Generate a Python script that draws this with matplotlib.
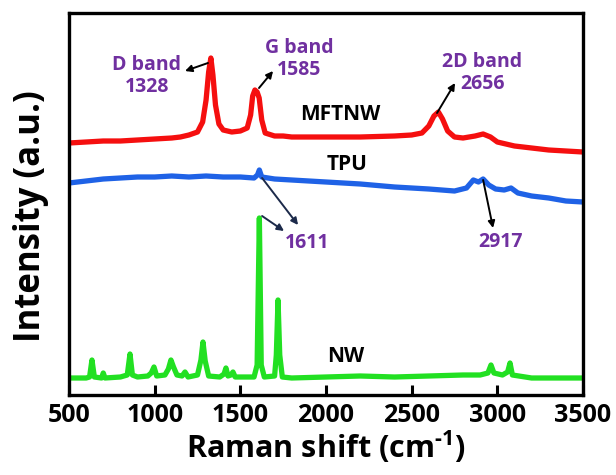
import matplotlib
matplotlib.use('Agg')
import matplotlib.pyplot as plt

plt.rcParams['font.family'] = ['Open Sans', 'DejaVu Sans']
plt.rcParams['font.weight'] = 'bold'
plt.rcParams['mathtext.fontset'] = 'custom'
plt.rcParams['mathtext.rm'] = 'Open Sans:bold'
plt.rcParams['mathtext.bf'] = 'Open Sans:bold'
plt.rcParams['mathtext.default'] = 'bf'

# Raman spectra (shift in cm^-1, intensity in a.u., traces already offset)
mftnw_shift = [500, 600, 700, 800, 900, 1000, 1100, 1150, 1200, 1250, 1280, 1300,
               1315, 1328, 1340, 1355, 1375, 1400, 1450, 1500, 1540, 1560, 1572,
               1585, 1598, 1610, 1625, 1645, 1700, 1750, 1800, 2000, 2200, 2400,
               2500, 2560, 2600, 2630, 2656, 2680, 2710, 2750, 2800, 2870, 2917,
               2960, 3000, 3100, 3200, 3300, 3400, 3500]
mftnw_int = [252, 253, 254, 254, 255, 256, 257, 258, 260, 263, 273, 295,
             323, 337, 320, 290, 271, 265, 263, 264, 267, 280, 299,
             305, 303, 297, 275, 262, 259, 259, 258, 258, 258, 259,
             260, 262, 269, 279, 283, 276, 264, 258, 257, 259, 261,
             258, 253, 249, 247, 245, 244, 243]

tpu_shift = [500, 600, 700, 800, 900, 1000, 1100, 1200, 1300, 1400, 1500, 1580,
             1600, 1611, 1625, 1700, 1800, 2000, 2200, 2400, 2600, 2750, 2820,
             2860, 2890, 2917, 2950, 2990, 3040, 3080, 3120, 3200, 3300, 3400, 3500]
tpu_int = [212, 214, 216, 217, 218, 218, 219, 218, 219, 218, 218, 217,
           220, 225, 218, 216, 215, 213, 211, 208, 206, 204, 207,
           215, 213, 216, 210, 206, 205, 207, 202, 199, 197, 194, 193]

nw_shift = [500, 600, 620, 634, 648, 690, 700, 710, 800, 840, 856, 870, 900,
            960, 980, 996, 1012, 1060, 1080, 1095, 1110, 1130, 1160, 1177, 1195,
            1250, 1270, 1282, 1295, 1315, 1380, 1405, 1416, 1428, 1445, 1457,
            1470, 1580, 1598, 1611, 1622, 1640, 1700, 1710, 1720, 1730, 1745,
            1800, 2000, 2200, 2400, 2600, 2800, 2900, 2945, 2963, 2980, 3030,
            3060, 3074, 3088, 3200, 3350, 3500]
nw_int = [17, 17, 18, 35, 18, 17, 22, 17, 18, 20, 41, 20, 18,
          19, 22, 28, 19, 20, 26, 35, 28, 20, 19, 23, 18,
          20, 35, 53, 34, 19, 18, 21, 27, 19, 20, 23,
          18, 18, 30, 177, 30, 18, 19, 40, 95, 40, 18,
          17, 18, 19, 18, 19, 20, 20, 22, 30, 22, 20,
          23, 32, 20, 17, 17, 17]

purple = '#7030a0'
navy = '#1c2a4a'

fig = plt.figure(figsize=(6.16, 4.75), dpi=100)
ax = fig.add_axes([69 / 616, 1 - 395 / 475, 514 / 616, 382 / 475])

ax.plot(mftnw_shift, mftnw_int, color='#f50f0f', lw=3.8, solid_joinstyle='round')
ax.plot(tpu_shift, tpu_int, color='#1f62e6', lw=3.8, solid_joinstyle='round')
ax.plot(nw_shift, nw_int, color='#22e022', lw=3.8, solid_joinstyle='round')

ax.set_xlim(500, 3500)
ax.set_ylim(0, 382)
ax.set_xticks([500, 1000, 1500, 2000, 2500, 3000, 3500])
ax.set_yticks([])
ax.tick_params(axis='x', direction='in', length=7, width=2.2, labelsize=18, pad=6)
for lbl in ax.get_xticklabels():
    lbl.set_fontweight('bold')
for sp in ax.spines.values():
    sp.set_linewidth(2.4)

ax.set_xlabel(r'Raman shift (cm$^{\text{-1}}$)', fontsize=22, fontweight='bold', labelpad=0)
fig.text(31 / 616, 1 - 216 / 475, 'Intensity (a.u.)', rotation=90, fontsize=25,
         fontweight='bold', ha='center', va='center')

# sample names
ax.text(2082, 280, 'MFTNW', fontsize=15, fontweight='bold', ha='center', va='center')
ax.text(2123, 230, 'TPU', fontsize=15, fontweight='bold', ha='center', va='center')
ax.text(2117, 38, 'NW', fontsize=15, fontweight='bold', ha='center', va='center')

# peak labels
ax.text(955, 319, 'D band\n1328', fontsize=14, fontweight='bold', color=purple,
        ha='center', va='center', linespacing=1.1)
ax.text(1843, 336, 'G band\n1585', fontsize=14, fontweight='bold', color=purple,
        ha='center', va='center', linespacing=1.1)
ax.text(2911, 322, '2D band\n2656', fontsize=14, fontweight='bold', color=purple,
        ha='center', va='center', linespacing=1.1)
ax.text(1889, 152, '1611', fontsize=14, fontweight='bold', color=purple,
        ha='center', va='center')
ax.text(3016, 153, '2917', fontsize=14, fontweight='bold', color=purple,
        ha='center', va='center')

arrows = [
    ((1311, 332), (1177, 324), 'black'),
    ((1609, 307), (1691, 324), 'black'),
    ((2648, 282), (2753, 312), 'black'),
    ((1627, 217), (1837, 170), navy),
    ((1627, 179), (1755, 164), navy),
    ((2917, 215), (2975, 167), 'black'),
]
for tail, head, c in arrows:
    ax.annotate('', xy=head, xytext=tail,
                arrowprops=dict(arrowstyle='-|>', color=c, lw=1.4,
                                mutation_scale=10, shrinkA=0, shrinkB=0))

fig.savefig('out.png', dpi=100)
